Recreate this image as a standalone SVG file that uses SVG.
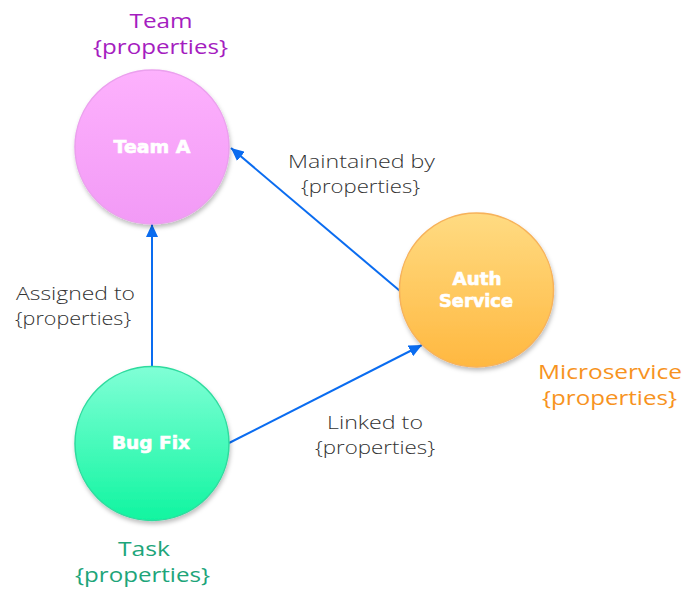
<svg xmlns="http://www.w3.org/2000/svg" width="693" height="604" viewBox="0 0 693 604">
<style>
.node-label{font-family:"DejaVu Sans","Liberation Sans",sans-serif;font-weight:bold;font-size:17px;fill:#ffffff;stroke:#ffffff;stroke-width:0.6;text-anchor:middle}
.edge-label{font-family:"Open Sans","Liberation Sans",sans-serif;font-weight:300;font-size:19px;fill:#333333;text-anchor:middle}
.type-label{font-family:"Open Sans","Liberation Sans",sans-serif;font-weight:400;font-size:20px;text-anchor:middle}
.edge{stroke:#0A6CF0;stroke-width:2;fill:none;marker-end:url(#arrow)}
</style>
<defs>
<marker id="arrow" markerUnits="userSpaceOnUse" markerWidth="14" markerHeight="12" refX="13" refY="6" orient="auto">
<path d="M0,0 L13,6 L0,12 Z" fill="#0A6CF0"/>
</marker>
<filter id="shadow" x="-20%" y="-20%" width="150%" height="150%">
<feDropShadow dx="1" dy="3" stdDeviation="2" flood-color="#000000" flood-opacity="0.25"/>
</filter>
<linearGradient id="gTeam" x1="0" y1="0" x2="0" y2="1">
<stop offset="0" stop-color="#FDB1FD"/>
<stop offset="1" stop-color="#F29AF6"/>
</linearGradient>
<linearGradient id="gAuth" x1="0" y1="0" x2="0" y2="1">
<stop offset="0" stop-color="#FFDB82"/>
<stop offset="1" stop-color="#FFB840"/>
</linearGradient>
<linearGradient id="gBug" x1="0" y1="0" x2="0" y2="1">
<stop offset="0" stop-color="#80FFD6"/>
<stop offset="1" stop-color="#10F5A0"/>
</linearGradient>
</defs>
<rect width="693" height="604" fill="#ffffff"/>

<g id="connectors">
<line class="edge" x1="152" y1="366" x2="152" y2="224"/>
<line class="edge" x1="400" y1="291" x2="231" y2="148"/>
<line class="edge" x1="229" y1="443" x2="422" y2="345"/>
<text class="edge-label" x="361.5" y="168" textLength="147" lengthAdjust="spacingAndGlyphs">Maintained by</text>
<text class="edge-label" x="360.5" y="193" textLength="119" lengthAdjust="spacingAndGlyphs">{properties}</text>
<text class="edge-label" x="75.5" y="300" textLength="119" lengthAdjust="spacingAndGlyphs">Assigned to</text>
<text class="edge-label" x="73" y="325" textLength="116" lengthAdjust="spacingAndGlyphs">{properties}</text>
<text class="edge-label" x="375" y="429" textLength="96" lengthAdjust="spacingAndGlyphs">Linked to</text>
<text class="edge-label" x="375" y="454" textLength="120" lengthAdjust="spacingAndGlyphs">{properties}</text>
</g>

<g id="team-a">
<circle cx="152" cy="147" r="77" fill="url(#gTeam)" stroke="#EBA0EE" stroke-width="1.5" filter="url(#shadow)"/>
<text class="node-label" x="152" y="153" textLength="77" lengthAdjust="spacingAndGlyphs">Team A</text>
<text class="type-label" x="161" y="28" fill="#A51DC0" textLength="63" lengthAdjust="spacingAndGlyphs">Team</text>
<text class="type-label" x="160.5" y="54" fill="#A51DC0" textLength="135" lengthAdjust="spacingAndGlyphs">{properties}</text>
</g>

<g id="auth-service">
<circle cx="476.5" cy="290" r="77" fill="url(#gAuth)" stroke="#F7B25A" stroke-width="1.5" filter="url(#shadow)"/>
<text class="node-label" x="477" y="285" textLength="49" lengthAdjust="spacingAndGlyphs">Auth</text>
<text class="node-label" x="476" y="307" textLength="74" lengthAdjust="spacingAndGlyphs">Service</text>
<text class="type-label" x="610" y="379" fill="#F7931E" textLength="144" lengthAdjust="spacingAndGlyphs">Microservice</text>
<text class="type-label" x="609.5" y="405" fill="#F7931E" textLength="135" lengthAdjust="spacingAndGlyphs">{properties}</text>
</g>

<g id="bug-fix">
<circle cx="152" cy="443.5" r="77" fill="url(#gBug)" stroke="#2EDB9E" stroke-width="1.5" filter="url(#shadow)"/>
<text class="node-label" x="151" y="449" textLength="78" lengthAdjust="spacingAndGlyphs">Bug Fix</text>
<text class="type-label" x="144" y="556" fill="#1DA57A" textLength="52" lengthAdjust="spacingAndGlyphs">Task</text>
<text class="type-label" x="142.5" y="582" fill="#1DA57A" textLength="135" lengthAdjust="spacingAndGlyphs">{properties}</text>
</g>
</svg>
